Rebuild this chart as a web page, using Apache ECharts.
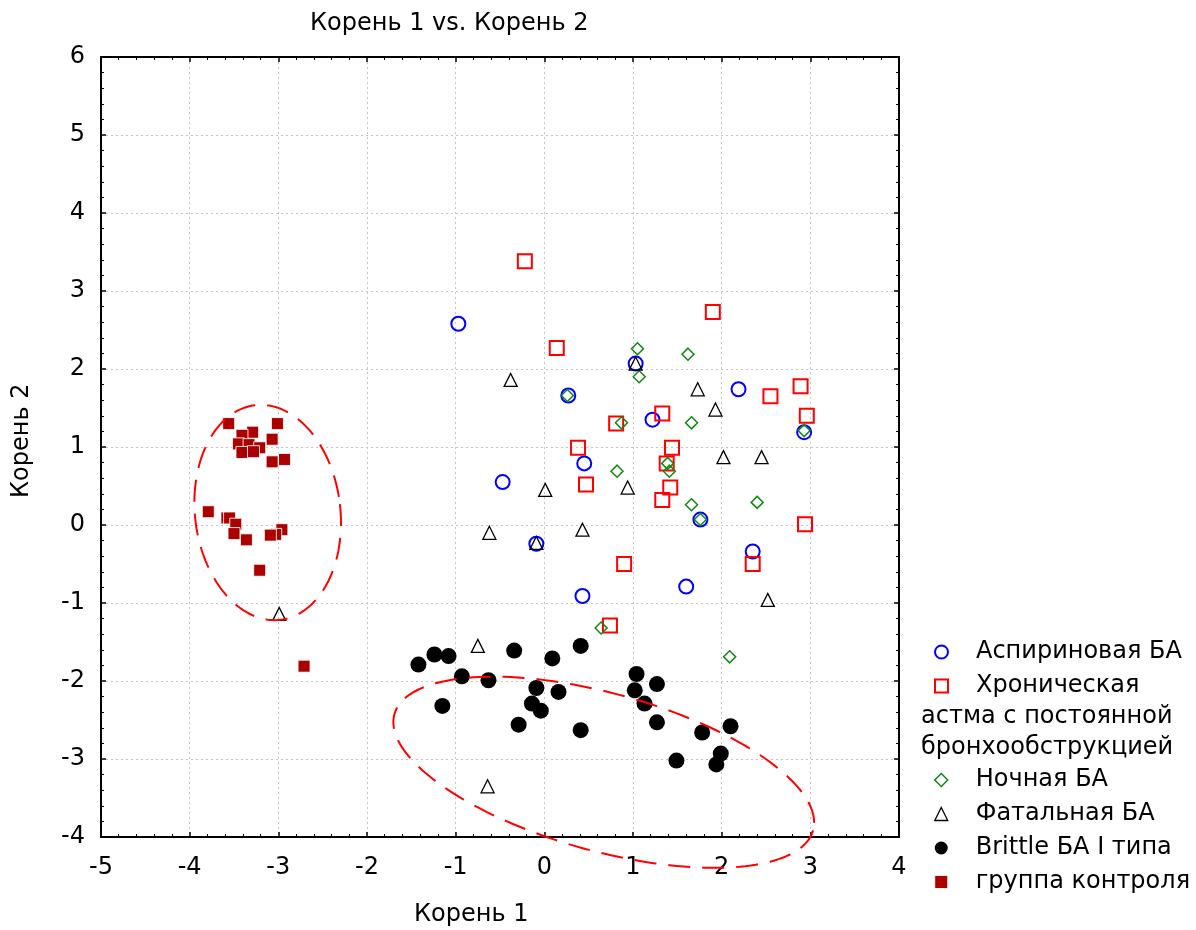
<!DOCTYPE html>
<html>
<head>
<meta charset="utf-8">
<script src="https://cdn.jsdelivr.net/npm/echarts@6/dist/echarts.min.js"></script>
<style>
html,body{margin:0;padding:0;background:#fff;}
#chart{width:1196px;height:930px;}
</style>
</head>
<body>
<div id="chart"></div>
<script>
// ---- data (Корень 1, Корень 2) ----
const seriesNames = [
  'Аспириновая БА',
  'Хроническая астма с постоянной бронхообструкцией',
  'Ночная БА',
  'Фатальная БА',
  'Brittle БА I типа',
  'группа контроля'
];
const aspirinBA = [[-0.97,2.58],[1.03,2.07],[0.27,1.66],[1.22,1.35],[2.19,1.74],[2.93,1.19],[0.45,0.79],[-0.47,0.55],[1.76,0.07],[-0.09,-0.24],[2.35,-0.34],[1.60,-0.79],[0.43,-0.91]];
const chronicBA = [[-0.22,3.38],[0.14,2.27],[1.90,2.73],[2.89,1.78],[2.55,1.65],[2.96,1.40],[1.33,1.43],[0.81,1.30],[1.44,0.99],[0.38,0.99],[1.38,0.79],[0.47,0.52],[1.42,0.48],[1.33,0.32],[2.94,0.01],[0.90,-0.50],[2.35,-0.50],[0.74,-1.29]];
const nocturnalBA = [[1.05,2.26],[1.62,2.19],[1.07,1.90],[0.26,1.66],[0.87,1.31],[1.66,1.31],[2.93,1.21],[0.82,0.69],[1.39,0.79],[1.41,0.69],[1.66,0.26],[2.40,0.29],[1.76,0.07],[0.64,-1.32],[2.09,-1.69]];
const fatalBA = [[-0.38,1.86],[1.03,2.07],[1.73,1.74],[1.93,1.48],[2.02,0.87],[2.45,0.87],[0.94,0.48],[0.01,0.45],[-0.62,-0.10],[0.43,-0.06],[-0.09,-0.23],[2.52,-0.96],[-0.75,-1.55],[-0.64,-3.35],[-2.99,-1.14]];
const brittleBA = [[-1.42,-1.79],[-1.24,-1.66],[-1.08,-1.68],[-0.93,-1.94],[-0.63,-1.99],[-1.15,-2.32],[-0.34,-1.61],[0.09,-1.71],[0.41,-1.55],[-0.09,-2.09],[0.16,-2.14],[-0.14,-2.29],[-0.04,-2.38],[-0.29,-2.56],[0.41,-2.63],[1.04,-1.91],[1.27,-2.04],[1.02,-2.12],[1.13,-2.29],[1.27,-2.53],[1.78,-2.66],[2.10,-2.58],[1.49,-3.02],[1.99,-2.93],[1.94,-3.07]];
const controlGroup = [[-3.56,1.30],[-3.01,1.30],[-3.29,1.19],[-3.41,1.15],[-3.45,1.04],[-3.07,1.10],[-3.33,1.03],[-3.21,0.99],[-3.41,0.93],[-3.28,0.94],[-3.07,0.81],[-2.93,0.84],[-3.79,0.17],[-3.58,0.09],[-3.55,0.09],[-3.48,0.01],[-3.50,-0.11],[-3.36,-0.19],[-2.96,-0.06],[-3.03,-0.12],[-3.09,-0.13],[-3.21,-0.58],[-2.71,-1.81]];
// ellipses: centre (x,y), semi-axes (in axis units), rotation (deg)
const ellipseCenters = [[-3.12,0.16],[0.67,-3.17]];
const ellipseRadii = [[0.82,1.385],[2.45,1.01]];
const ellipseAngles = [-6.7,15.5];
const xTicks = {min:-5,max:4,step:1};
const yTicks = {min:-4,max:6,step:1};

const FONT = "'DejaVu Sans', 'Liberation Sans', Arial, sans-serif";
const chart = echarts.init(document.getElementById('chart'), null, {renderer:'canvas'});

const ellipseData = ellipseCenters.map((c,i)=>[c[0],c[1],ellipseRadii[i][0],ellipseRadii[i][1],ellipseAngles[i]]);

function axisCommon(isX, pos, show){
  const t = isX ? xTicks : yTicks;
  return {
    type:'value', min:t.min, max:t.max, interval:t.step, position:pos,
    axisLine:{show:true,onZero:false,lineStyle:{color:'#000',width:2}},
    axisTick:{show:true,inside:true,length:5,lineStyle:{color:'#000',width:1.5}},
    minorTick:{show:true,splitNumber:5,length:3,lineStyle:{color:'#000',width:1}},
    axisLabel:{show:show,color:'#000',fontSize:24,fontFamily:FONT,margin:isX?19:16},
    splitLine:{show:show,lineStyle:{color:'#c4c4c4',type:[2,3],width:1}},
    minorSplitLine:{show:false}
  };
}

const hollow = (c,w)=>({color:'rgba(255,255,255,0)',borderColor:c,borderWidth:w,opacity:1});
const styles = [
  {symbol:'circle',size:14,item:hollow('#0000ff',2)},
  {symbol:'rect',size:14,item:hollow('#ff0000',2)},
  {symbol:'diamond',size:12,item:hollow('#118811',1.5)},
  {symbol:'triangle',size:13,item:hollow('#000000',1.3)},
  {symbol:'circle',size:16,item:{color:'#000000',opacity:1}},
  {symbol:'rect',size:12,item:{color:'#aa0000',borderColor:'rgba(255,255,255,0.85)',borderWidth:1,opacity:1}}
];
const allData = [aspirinBA, chronicBA, nocturnalBA, fatalBA, brittleBA, controlGroup];

const scatterSeries = allData.map((d,i)=>({
  type:'scatter', name:seriesNames[i], data:d,
  symbol:styles[i].symbol, symbolSize:styles[i].size,
  itemStyle:styles[i].item, xAxisIndex:0, yAxisIndex:0,
  emphasis:{disabled:true}, z:3
}));
const drawOrder = [5,4,0,1,2,3];
const orderedSeries = drawOrder.map((k,j)=>Object.assign({}, scatterSeries[k], {z:3+j}));

const legendItem = i => ({name:seriesNames[i], icon:styles[i].symbol, itemStyle:styles[i].item});
const legendBase = {
  orient:'vertical', left:934, itemWidth:13, itemHeight:13, itemGap:4, padding:0,
  selectedMode:false, symbolKeepAspect:true,
  textStyle:{color:'#000',fontSize:24,fontFamily:FONT,lineHeight:30,padding:[0,0,0,23]},
  formatter: n => n.indexOf('Хроническая')===0 ? 'Хроническая' : n
};

const option = {
  animation:false,
  backgroundColor:'#fff',
  title:{text:'Корень 1 vs. Корень 2',left:310,top:12,padding:0,textStyle:{color:'#000',fontSize:24,fontWeight:'normal',fontFamily:FONT}},
  grid:{left:101,top:57,right:297,bottom:93,containLabel:false},
  xAxis:[axisCommon(true,'bottom',true), axisCommon(true,'top',false)],
  yAxis:[axisCommon(false,'left',true), axisCommon(false,'right',false)],
  legend:[
    Object.assign({}, legendBase, {top:637, data:[legendItem(0),legendItem(1)]}),
    Object.assign({}, legendBase, {top:765, data:[legendItem(2),legendItem(3),legendItem(4),legendItem(5)]})
  ],
  graphic:[
    {type:'text',left:414,top:903,style:{text:'Корень 1',fill:'#000',font:'24px '+FONT}},
    {type:'text',x:10,y:498,rotation:Math.PI/2,style:{text:'Корень 2',fill:'#000',font:'24px '+FONT}},
    {type:'text',left:921,top:705,style:{text:'астма с постоянной',fill:'#000',font:'24px '+FONT}},
    {type:'text',left:921,top:736,style:{text:'бронхообструкцией',fill:'#000',font:'24px '+FONT}}
  ],
  series:[
    {
      type:'custom', name:'ellipses', data:ellipseData, xAxisIndex:0, yAxisIndex:0, clip:false, z:10,
      silent:true,
      renderItem:(params, api)=>{
        const c = api.coord([api.value(0), api.value(1)]);
        const rx = Math.abs(api.size([api.value(2),0])[0]);
        const ry = Math.abs(api.size([0,api.value(3)])[1]);
        const phi = api.value(4)*Math.PI/180;
        const cp = Math.cos(phi), sp = Math.sin(phi);
        const pts = [];
        for(let k=0;k<=360;k+=2){
          const t = k*Math.PI/180;
          const ex = rx*Math.cos(t), ey = ry*Math.sin(t);
          pts.push([c[0]+ex*cp-ey*sp, c[1]+ex*sp+ey*cp]);
        }
        return {type:'polyline',shape:{points:pts},style:{stroke:'#ff0000',lineWidth:2,fill:null,lineDash:[22,12]}};
      }
    }
  ].concat(orderedSeries)
};
chart.setOption(option);
</script>
</body>
</html>
